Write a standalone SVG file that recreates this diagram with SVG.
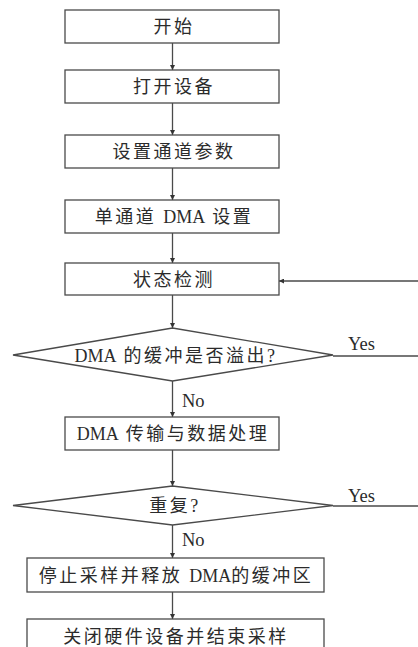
<svg xmlns="http://www.w3.org/2000/svg" width="418" height="647" viewBox="0 0 418 647">
<defs>
<style>
.box{fill:#fff;stroke:#4a4a4a;stroke-width:1.3}
.t{font-family:"Liberation Serif","Noto Sans CJK SC",serif;font-size:18px;fill:#2b2b2b;text-anchor:middle;letter-spacing:2.5px}
.lat{letter-spacing:0}
.lbl{font-family:"Liberation Serif",serif;font-size:18.5px;fill:#2b2b2b}
.ln{fill:none;stroke:#4a4a4a;stroke-width:1.3}
</style>
<marker id="ah" viewBox="0 0 10 10" refX="10" refY="5" markerWidth="5" markerHeight="5" orient="auto" markerUnits="userSpaceOnUse">
<path d="M0,0 L10,5 L0,10 z" fill="#333"/>
</marker>
</defs>
<rect width="418" height="647" fill="#fff"/>
<g id="connectors">
<line class="ln" x1="172.5" y1="43" x2="172.5" y2="70" marker-end="url(#ah)"/>
<line class="ln" x1="172.5" y1="103" x2="172.5" y2="135" marker-end="url(#ah)"/>
<line class="ln" x1="172.5" y1="168" x2="172.5" y2="200" marker-end="url(#ah)"/>
<line class="ln" x1="172.5" y1="233" x2="172.5" y2="263" marker-end="url(#ah)"/>
<line class="ln" x1="172.5" y1="295" x2="172.5" y2="328" marker-end="url(#ah)"/>
<line class="ln" x1="172.5" y1="381" x2="172.5" y2="417" marker-end="url(#ah)"/>
<line class="ln" x1="172.5" y1="450" x2="172.5" y2="486" marker-end="url(#ah)"/>
<line class="ln" x1="172.5" y1="525" x2="172.5" y2="558" marker-end="url(#ah)"/>
<line class="ln" x1="172.5" y1="592" x2="172.5" y2="619" marker-end="url(#ah)"/>
<line class="ln" x1="420" y1="281" x2="279" y2="281" marker-end="url(#ah)"/>
<line class="ln" x1="333" y1="356" x2="420" y2="356"/>
<line class="ln" x1="333" y1="506" x2="420" y2="506"/>
<text class="lbl" x="348" y="350">Yes</text>
<text class="lbl" x="182" y="407">No</text>
<text class="lbl" x="348" y="501.5">Yes</text>
<text class="lbl" x="182" y="546">No</text>
</g>
<g id="start">
<rect class="box" x="65" y="10" width="214" height="33"/>
<text class="t" x="174" y="33">开始</text>
</g>
<g id="open">
<rect class="box" x="65" y="70" width="214" height="33"/>
<text class="t" x="174" y="93">打开设备</text>
</g>
<g id="param">
<rect class="box" x="65" y="135" width="214" height="33"/>
<text class="t" x="174" y="158">设置通道参数</text>
</g>
<g id="dmaset">
<rect class="box" x="65" y="200" width="214" height="33"/>
<text class="t" x="174" y="223">单通道 <tspan class="lat">DMA</tspan> 设置</text>
</g>
<g id="check">
<rect class="box" x="65" y="263" width="214" height="32"/>
<text class="t" x="174" y="285.5">状态检测</text>
</g>
<g id="overflow">
<polygon class="box" points="13,355 172.5,328 333,355 172.5,381"/>
<text class="t" x="176" y="361.5"><tspan class="lat">DMA</tspan> 的缓冲是否溢出?</text>
</g>
<g id="transfer">
<rect class="box" x="65" y="417" width="214" height="33"/>
<text class="t" x="173" y="440"><tspan class="lat">DMA</tspan> 传输与数据处理</text>
</g>
<g id="repeat">
<polygon class="box" points="13,505.5 172.5,486 333,505.5 172.5,525"/>
<text class="t" x="175" y="512">重复?</text>
</g>
<g id="stop">
<rect class="box" x="27" y="558" width="297" height="34"/>
<text class="t" x="176" y="581.5">停止采样并释放 <tspan class="lat">DMA</tspan>的缓冲区</text>
</g>
<g id="close">
<rect class="box" x="27" y="619" width="297" height="40"/>
<text class="t" x="176" y="643">关闭硬件设备并结束采样</text>
</g>
</svg>
